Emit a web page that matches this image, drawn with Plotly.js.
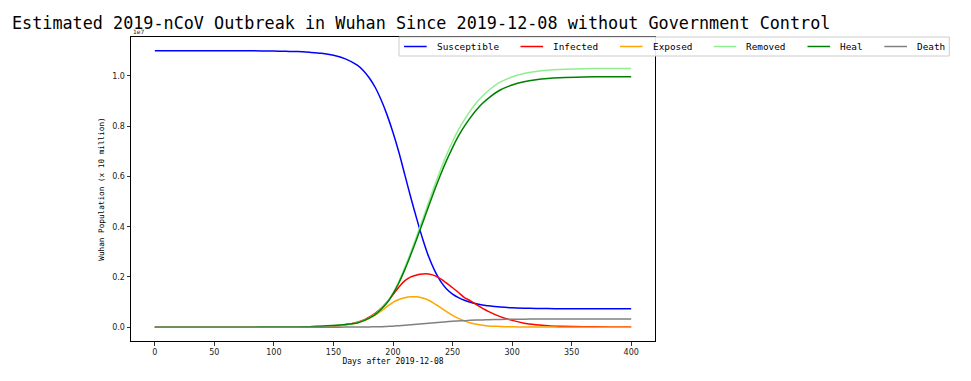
<!DOCTYPE html>
<html>
<head>
<meta charset="utf-8">
<script src="https://cdn.plot.ly/plotly-3.0.1.min.js"></script>
<style>html,body{margin:0;padding:0;background:#fff;}#chart{width:971px;height:381px;}</style>
</head>
<body>
<div id="chart"></div>
<script>
// Days after 2019-12-08
const days = [0, 20, 40, 60, 80, 100, 110, 120, 130, 140, 150, 160, 170, 175, 180, 185, 190, 195, 200, 205, 210, 215, 220, 225, 230, 235, 240, 245, 250, 255, 260, 265, 270, 275, 280, 290, 300, 310, 320, 330, 340, 360, 380, 400];
// Population values in units of 1e7 (10 million)
const susceptible = [1.100, 1.100, 1.100, 1.100, 1.100, 1.099, 1.098, 1.097, 1.094, 1.090, 1.082, 1.068, 1.043, 1.022, 0.993, 0.955, 0.905, 0.845, 0.775, 0.695, 0.605, 0.515, 0.430, 0.350, 0.280, 0.225, 0.182, 0.152, 0.132, 0.118, 0.107, 0.099, 0.093, 0.088, 0.085, 0.080, 0.077, 0.0755, 0.0745, 0.074, 0.0737, 0.0735, 0.0733, 0.0733];
const infected = [0, 0, 0, 0, 0, 0.0002, 0.0005, 0.001, 0.002, 0.003, 0.005, 0.010, 0.020, 0.028, 0.040, 0.055, 0.075, 0.100, 0.130, 0.160, 0.185, 0.200, 0.208, 0.212, 0.212, 0.205, 0.192, 0.175, 0.157, 0.138, 0.118, 0.105, 0.090, 0.076, 0.063, 0.042, 0.027, 0.016, 0.010, 0.006, 0.004, 0.002, 0.001, 0.0005];
const exposed = [0, 0, 0, 0, 0, 0.0002, 0.0005, 0.001, 0.002, 0.003, 0.005, 0.009, 0.018, 0.025, 0.035, 0.048, 0.064, 0.082, 0.099, 0.110, 0.117, 0.121, 0.121, 0.116, 0.107, 0.093, 0.078, 0.062, 0.047, 0.035, 0.025, 0.017, 0.012, 0.008, 0.005, 0.003, 0.0015, 0.0008, 0.0005, 0.0003, 0.0002, 0.0001, 0, 0];
const removed = [0, 0, 0, 0, 0.0001, 0.0005, 0.0008, 0.001, 0.002, 0.004, 0.007, 0.011, 0.018, 0.026, 0.037, 0.052, 0.073, 0.100, 0.137, 0.183, 0.238, 0.299, 0.364, 0.431, 0.498, 0.565, 0.628, 0.686, 0.739, 0.786, 0.826, 0.862, 0.893, 0.919, 0.941, 0.975, 0.996, 1.010, 1.018, 1.023, 1.026, 1.029, 1.030, 1.030];
const heal = [0, 0, 0, 0, 0.0001, 0.0005, 0.0008, 0.001, 0.002, 0.004, 0.007, 0.011, 0.017, 0.025, 0.036, 0.050, 0.071, 0.097, 0.133, 0.177, 0.230, 0.289, 0.352, 0.417, 0.482, 0.547, 0.608, 0.664, 0.715, 0.761, 0.800, 0.834, 0.864, 0.890, 0.911, 0.944, 0.964, 0.977, 0.985, 0.990, 0.993, 0.996, 0.997, 0.997];
const death = [0, 0, 0, 0, 0, 0, 0, 0, 0, 0, 0, 0.0003, 0.001, 0.001, 0.001, 0.002, 0.002, 0.003, 0.004, 0.006, 0.008, 0.010, 0.012, 0.014, 0.016, 0.018, 0.020, 0.022, 0.024, 0.025, 0.026, 0.028, 0.029, 0.029, 0.030, 0.031, 0.032, 0.032, 0.033, 0.033, 0.033, 0.033, 0.033, 0.033];

const seriesNames = ['Susceptible', 'Infected', 'Exposed', 'Removed', 'Heal', 'Death'];
const seriesData = [susceptible, infected, exposed, removed, heal, death];
const seriesColors = ['#0000ff', '#ff0000', '#ffa500', '#90ee90', '#008000', '#808080'];

const xTicks = [0, 50, 100, 150, 200, 250, 300, 350, 400];
const yTicks = [0.0, 0.2, 0.4, 0.6, 0.8, 1.0];

const traces = seriesNames.map((n, i) => ({
  x: days, y: seriesData[i], name: n, type: 'scatter', mode: 'lines', showlegend: false,
  line: {color: seriesColors[i], width: 1.5, shape: 'spline', smoothing: 0.8}
}));

// ---- figure geometry (pixels) ----
const W = 971, H = 381;
const plotL = 131, plotR = 655, plotT = 37, plotB = 341;
const px2x = p => (p - plotL) / (plotR - plotL);
const py2y = p => 1 - (p - plotT) / (plotB - plotT);

const tickFont = {family: 'DejaVu Sans', size: 8, color: '#222'};
const monoFont = 'DejaVu Sans Mono';

// ---- matplotlib-style horizontal legend built from shapes + texts ----
const lf = 11.3;                 // legend font size unit (px)
const charW = 0.5 * lf;          // half-width glyph advance
const legFontSize = charW / 0.602;
const legL = 399, legT = 37, legB = 56;
const shapes = [];
const annotations = [];
let cx = legL + 0.45 * lf;
const legY = (legT + legB) / 2;
seriesNames.forEach((n, i) => {
  shapes.push({type: 'line', xref: 'paper', yref: 'paper', layer: 'above',
    x0: px2x(cx), x1: px2x(cx + 2 * lf), y0: py2y(legY), y1: py2y(legY),
    line: {color: seriesColors[i], width: 1.5}});
  const tx = cx + 2.8 * lf;
  annotations.push({text: n, xref: 'paper', yref: 'paper', x: px2x(tx), y: py2y(legY),
    xanchor: 'left', yanchor: 'middle', showarrow: false, borderpad: 0,
    font: {family: monoFont, size: legFontSize, color: '#000'}});
  cx = tx + charW * n.length + 2 * lf;
});
const legR = cx - 2 * lf + 0.45 * lf;
shapes.unshift({type: 'rect', xref: 'paper', yref: 'paper', layer: 'above',
  x0: px2x(legL), x1: px2x(legR), y0: py2y(legB), y1: py2y(legT),
  fillcolor: 'rgba(255,255,255,0.9)', line: {color: '#cccccc', width: 1}});

annotations.push({text: '1e7', xref: 'paper', yref: 'paper', x: 0, y: 1, xanchor: 'left', yanchor: 'bottom', showarrow: false,
  font: {family: 'DejaVu Sans', size: 6, color: '#222'}});

const layout = {
  width: W, height: H,
  margin: {l: plotL, r: W - plotR, t: plotT, b: H - plotB, pad: 0},
  paper_bgcolor: '#fff', plot_bgcolor: '#fff',
  title: {text: 'Estimated 2019-nCoV Outbreak in Wuhan Since 2019-12-08 without Government Control',
          x: 12 / W, xanchor: 'left', xref: 'container', y: 1 - 23 / H, yanchor: 'middle', yref: 'container',
          font: {family: monoFont, size: 16.8, color: '#000'}},
  xaxis: {range: [-20, 420], tickvals: xTicks, ticktext: xTicks.map(String), ticks: 'outside', ticklen: 3.5, tickwidth: 0.8, tickcolor: '#000',
          showline: true, mirror: true, linecolor: '#000', linewidth: 1, showgrid: false, zeroline: false,
          tickfont: tickFont, title: {text: 'Days after 2019-12-08', font: {family: monoFont, size: 8, color: '#000'}, standoff: 2}},
  yaxis: {range: [-0.055, 1.155], tickvals: yTicks, ticktext: yTicks.map(v => v.toFixed(1)), ticks: 'outside', ticklen: 3.5, tickwidth: 0.8, tickcolor: '#000',
          showline: true, mirror: true, linecolor: '#000', linewidth: 1, showgrid: false, zeroline: false,
          tickfont: tickFont, title: {text: 'Wuhan Population (x 10 million)', font: {family: monoFont, size: 7.7, color: '#000'}, standoff: 6}},
  shapes: shapes,
  annotations: annotations,
  showlegend: false
};

Plotly.newPlot('chart', traces, layout, {displayModeBar: false, staticPlot: true});
</script>
</body>
</html>
